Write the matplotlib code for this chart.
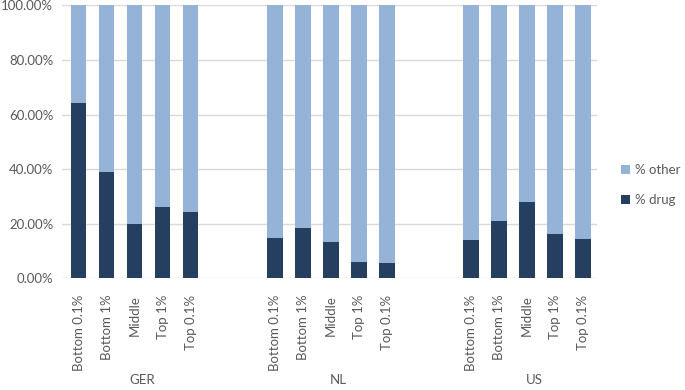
import matplotlib
matplotlib.use("Agg")
import matplotlib.pyplot as plt
import numpy as np

groups = ["GER", "NL", "US"]
levels = ["Bottom 0.1%", "Bottom 1%", "Middle", "Top 1%", "Top 0.1%"]
drug_ger = [64.1, 38.9, 19.7, 26.1, 24.1]
drug_nl = [14.6, 18.3, 13.2, 5.9, 5.5]
drug_us = [14.1, 20.9, 27.9, 16.3, 14.2]
yticks = [0, 20, 40, 60, 80, 100]

plt.rcParams['font.family'] = ['Lato', 'DejaVu Sans']

c_drug = "#243F60"
c_other = "#95B3D7"
txt = "#595959"

fig = plt.figure(figsize=(6.85, 3.9), dpi=100)
ax = fig.add_axes([0.090, 0.287, 0.781, 0.699])

drug = np.array(drug_ger + drug_nl + drug_us)
other = 100 - drug
pos = np.concatenate([np.arange(5) + 7 * g for g in range(len(groups))])

ax.bar(pos, drug, width=0.55, color=c_drug, label="% drug", zorder=3)
ax.bar(pos, other, width=0.55, bottom=drug, color=c_other, label="% other", zorder=3)

ax.set_xlim(-0.61, 18.49)
ax.set_ylim(0, 100)
ax.set_yticks(yticks)
ax.set_yticklabels(["%.2f%%" % v for v in yticks], fontsize=9.5, color=txt)
ax.yaxis.grid(True, color="#D9D9D9", linewidth=1, zorder=0)
ax.tick_params(axis="both", length=0)
ax.tick_params(axis="y", pad=6)

ax.set_xticks(pos)
ax.set_xticklabels(levels * len(groups), rotation=90, fontsize=9.5, color=txt)
ax.tick_params(axis="x", pad=12)

for sp in ax.spines.values():
    sp.set_visible(False)

for g, name in enumerate(groups):
    ax.text(7 * g + 2.25, -0.375, name, transform=ax.get_xaxis_transform(),
            ha="center", va="center", fontsize=9.5, color=txt)

h, l = ax.get_legend_handles_labels()
leg = ax.legend(h[::-1], l[::-1], loc="center left", bbox_to_anchor=(1.045, 0.34),
                frameon=False, fontsize=9.5, handlelength=0.7, handleheight=0.7,
                handletextpad=0.4, labelspacing=1.35, borderaxespad=0, borderpad=0)
for t in leg.get_texts():
    t.set_color(txt)

fig.savefig("out.png", dpi=100)
